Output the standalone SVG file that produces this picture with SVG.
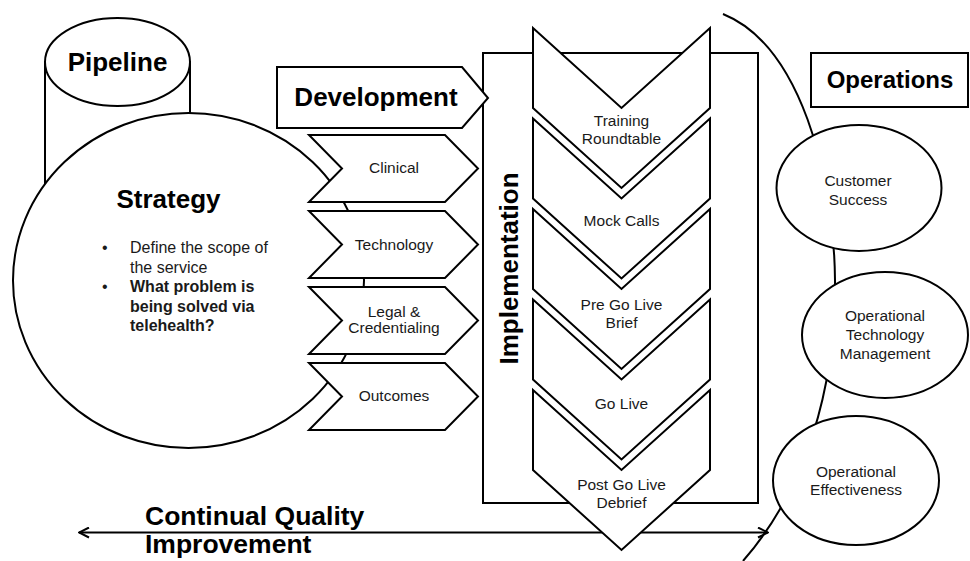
<svg xmlns="http://www.w3.org/2000/svg" width="970" height="561" viewBox="0 0 970 561">
  <defs>
    <style>
      .shape { fill: #ffffff; stroke: #000000; stroke-width: 2; }
      .line { fill: none; stroke: #000000; stroke-width: 2; }
      .head { font-family: "Liberation Sans", Arial, sans-serif; font-weight: bold; fill: #000000; }
      .label { font-family: "Liberation Sans", Arial, sans-serif; font-size: 15.5px; fill: #1a1a1a; text-anchor: middle; }
      .body { font-family: "Liberation Sans", Arial, sans-serif; font-size: 16px; fill: #1a1a1a; }
    </style>
    <marker id="openHead" viewBox="0 0 12 12" refX="11" refY="6" markerWidth="12" markerHeight="12" markerUnits="userSpaceOnUse" orient="auto-start-reverse">
      <path d="M1,1 L11,6 L1,11" fill="none" stroke="#000000" stroke-width="2"/>
    </marker>
  </defs>

  <rect width="970" height="561" fill="#ffffff"/>

  <!-- Operations boundary curve (behind the operations ellipses) and quality-improvement arrow -->
  <g id="connectors">
    <path class="line" d="M723,14 C800,45 834,175 835,280 C836,390 805,490 743,561"/>
    <line class="line" x1="79" y1="532.5" x2="768" y2="532.5" marker-start="url(#openHead)" marker-end="url(#openHead)"/>
  </g>

  <!-- Pipeline cylinder -->
  <g id="pipeline">
    <path class="shape" d="M45,62 L45,260 A72.5,44 0 0 0 190,260 L190,62 Z"/>
    <ellipse class="shape" cx="117.5" cy="62" rx="72.5" ry="44"/>
    <text class="head" x="117.5" y="71" font-size="26" text-anchor="middle">Pipeline</text>
  </g>

  <!-- Strategy circle -->
  <g id="strategy">
    <ellipse class="shape" cx="188.5" cy="280.5" rx="175.5" ry="167.5"/>
    <text class="head" x="168.5" y="208" font-size="26" text-anchor="middle">Strategy</text>
    <text class="body" x="102" y="253">•</text>
    <text class="body" x="130" y="253">Define the scope of</text>
    <text class="body" x="130" y="272.5">the service</text>
    <text class="body" x="102" y="292">•</text>
    <text class="body" x="130" y="292" font-weight="bold">What problem is</text>
    <text class="body" x="130" y="311.5" font-weight="bold">being solved via</text>
    <text class="body" x="130" y="331" font-weight="bold">telehealth?</text>
  </g>

  <!-- Development streams -->
  <g id="dev-clinical">
    <polygon class="shape" points="309,135 445,135 478,168.5 445,202 309,202 342,168.5"/>
    <text class="label" x="394" y="173">Clinical</text>
  </g>
  <g id="dev-technology">
    <polygon class="shape" points="309,211 445,211 478,244.5 445,278 309,278 342,244.5"/>
    <text class="label" x="394" y="249.5">Technology</text>
  </g>
  <g id="dev-legal">
    <polygon class="shape" points="309,287 445,287 478,320.5 445,354 309,354 342,320.5"/>
    <text class="label" x="394" y="316.5">Legal &amp;</text>
    <text class="label" x="394" y="333">Credentialing</text>
  </g>
  <g id="dev-outcomes">
    <polygon class="shape" points="309,363 445,363 478,396.5 445,430 309,430 342,396.5"/>
    <text class="label" x="394" y="401">Outcomes</text>
  </g>

  <!-- Implementation frame -->
  <g id="implementation">
    <rect class="shape" x="483" y="53" width="275" height="450"/>
    <text class="head" font-size="26" text-anchor="middle" transform="translate(518,268.5) rotate(-90)">Implementation</text>
  </g>

  <!-- Development header arrow -->
  <g id="development">
    <polygon class="shape" points="277,67 462,67 488,98 462,128 277,128"/>
    <text class="head" x="376" y="106" font-size="26" text-anchor="middle">Development</text>
  </g>

  <!-- Implementation steps -->
  <g id="impl-training">
    <polygon class="shape" points="533,28 621.5,108 710,28 710,108 621.5,188 533,108"/>
    <text class="label" x="621.5" y="126">Training</text>
    <text class="label" x="621.5" y="143.5">Roundtable</text>
  </g>
  <g id="impl-mock">
    <polygon class="shape" points="533,118.5 621.5,198.5 710,118.5 710,198.5 621.5,278.5 533,198.5"/>
    <text class="label" x="621.5" y="226">Mock Calls</text>
  </g>
  <g id="impl-pregolive">
    <polygon class="shape" points="533,209 621.5,289 710,209 710,289 621.5,369 533,289"/>
    <text class="label" x="621.5" y="310">Pre Go Live</text>
    <text class="label" x="621.5" y="327.5">Brief</text>
  </g>
  <g id="impl-golive">
    <polygon class="shape" points="533,299.5 621.5,379.5 710,299.5 710,379.5 621.5,459.5 533,379.5"/>
    <text class="label" x="621.5" y="409">Go Live</text>
  </g>
  <g id="impl-postgolive">
    <polygon class="shape" points="533,390 621.5,470 710,390 710,470 621.5,550 533,470"/>
    <text class="label" x="621.5" y="490">Post Go Live</text>
    <text class="label" x="621.5" y="507.5">Debrief</text>
  </g>

  <!-- Operations -->
  <g id="operations">
    <rect class="shape" x="811" y="53" width="157" height="54"/>
    <text class="head" x="890" y="88" font-size="24" text-anchor="middle">Operations</text>
  </g>
  <g id="ops-customer">
    <ellipse class="shape" cx="859" cy="188" rx="82.5" ry="63"/>
    <text class="label" x="858" y="186">Customer</text>
    <text class="label" x="858" y="205">Success</text>
  </g>
  <g id="ops-technology">
    <ellipse class="shape" cx="885" cy="335" rx="83" ry="63"/>
    <text class="label" x="885" y="320.5">Operational</text>
    <text class="label" x="885" y="340">Technology</text>
    <text class="label" x="885" y="359">Management</text>
  </g>
  <g id="ops-effectiveness">
    <ellipse class="shape" cx="856" cy="480.5" rx="83" ry="64.5"/>
    <text class="label" x="856" y="476.5">Operational</text>
    <text class="label" x="856" y="495">Effectiveness</text>
  </g>

  <!-- Continual quality improvement label -->
  <g id="cqi">
    <text class="head" x="145" y="525" font-size="26.5">Continual Quality</text>
    <text class="head" x="145" y="553" font-size="26.5">Improvement</text>
  </g>
</svg>
